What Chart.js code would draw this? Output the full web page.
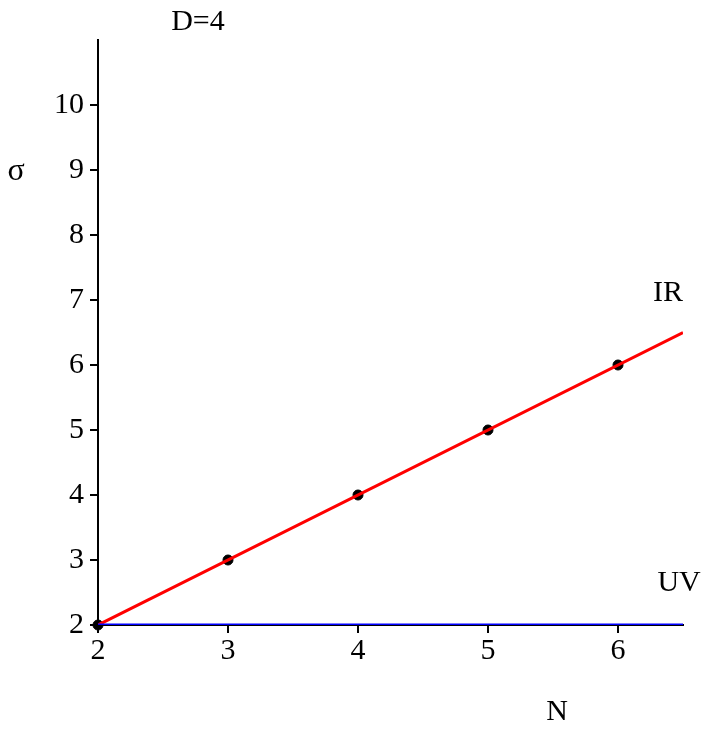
<!DOCTYPE html>
<html>
<head>
<meta charset="utf-8">
<script src="https://cdn.jsdelivr.net/npm/chart.js@4"></script>
<style>
  html, body { margin: 0; padding: 0; background: #fff; }
  #wrap { width: 722px; height: 743px; }
</style>
</head>
<body>
<div id="wrap"><canvas id="c"></canvas></div>
<script>
const xTicks = [2, 3, 4, 5, 6]
const yTicks = [2, 3, 4, 5, 6, 7, 8, 9, 10]
const irLine = [{ x: 2, y: 2 }, { x: 6.5, y: 6.5 }]
const uvLine = [{ x: 2, y: 2 }, { x: 6.5, y: 2 }]
const dots = [{ x: 2, y: 2 }, { x: 3, y: 3 }, { x: 4, y: 4 }, { x: 5, y: 5 }, { x: 6, y: 6 }]

const font = { family: "'Liberation Serif', serif", size: 30 }

// Free text labels placed via the scales
const labels = {
  id: 'labels',
  afterDraw(chart) {
    const { ctx, scales: { x, y } } = chart
    ctx.save()
    ctx.fillStyle = '#000'
    ctx.font = "30px 'Liberation Serif', serif"
    ctx.textBaseline = 'middle'
    ctx.textAlign = 'center'
    ctx.fillText('IR', x.getPixelForValue(6.385), y.getPixelForValue(7.1))
    ctx.fillText('UV', x.getPixelForValue(6.47), y.getPixelForValue(2.65))
    ctx.fillText('D=4', 198, 22)
    ctx.fillText('N', 557, 712)
    ctx.font = "32px 'Liberation Serif', serif"
    ctx.fillText('σ', 16, 172)
    ctx.restore()
  }
}

new Chart(document.getElementById('c'), {
  type: 'scatter',
  data: {
    datasets: [
      { data: uvLine, showLine: true, borderColor: '#0000ff', borderWidth: 3, pointRadius: 0 },
      { data: irLine, showLine: true, borderColor: '#ff0000', borderWidth: 3, pointRadius: 0 },
      { data: dots, showLine: false, clip: false, backgroundColor: '#000', borderColor: '#000', pointRadius: 5 }
    ]
  },
  options: {
    responsive: true,
    maintainAspectRatio: false,
    animation: false,
    layout: { padding: { top: 40, right: 39, left: 0, bottom: 0 } },
    plugins: { legend: { display: false }, tooltip: { enabled: false } },
    scales: {
      x: {
        type: 'linear',
        min: 2,
        max: 6.5,
        afterBuildTicks: s => { s.ticks = xTicks.map(v => ({ value: v })) },
        afterFit: s => { s.height = 118 },
        grid: { drawOnChartArea: false, drawTicks: true, tickLength: 8, color: '#000', lineWidth: 2 },
        border: { color: '#000', width: 2 },
        ticks: { color: '#000', font, padding: 0, maxRotation: 0 }
      },
      y: {
        type: 'linear',
        min: 2,
        max: 11,
        afterBuildTicks: s => { s.ticks = yTicks.map(v => ({ value: v })) },
        afterFit: s => { s.width = 98 },
        grid: { drawOnChartArea: false, drawTicks: true, tickLength: 8, color: '#000', lineWidth: 2 },
        border: { color: '#000', width: 2 },
        ticks: { color: '#000', font, padding: 6 }
      }
    }
  },
  plugins: [labels]
})
</script>
</body>
</html>
